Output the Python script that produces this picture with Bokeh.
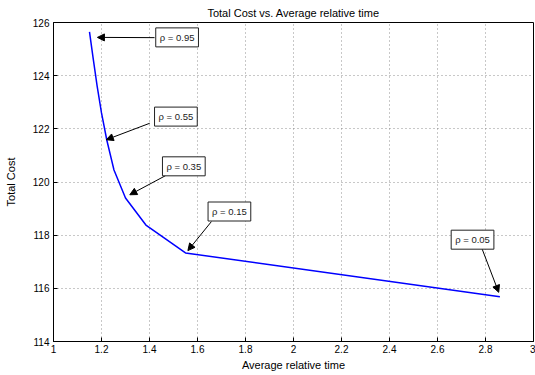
from bokeh.plotting import figure
from bokeh.models import FixedTicker, Arrow, NormalHead, Label, ColumnDataSource, Range1d
from bokeh.embed import file_html
from bokeh.resources import INLINE

# Data: rho values and resulting (avg relative time, total cost)
rho = [0.05, 0.15, 0.25, 0.35, 0.45, 0.55, 0.65, 0.75, 0.85, 0.95]
avg_time = [2.86, 1.55, 1.385, 1.30, 1.252, 1.222, 1.200, 1.182, 1.166, 1.150]
total_cost = [115.68, 117.33, 118.38, 119.40, 120.45, 121.58, 122.60, 123.60, 124.60, 125.65]

x_ticks = [1.0, 1.2, 1.4, 1.6, 1.8, 2.0, 2.2, 2.4, 2.6, 2.8, 3.0]
x_tick_labels = ["1", "1.2", "1.4", "1.6", "1.8", "2", "2.2", "2.4", "2.6", "2.8", "3"]
y_ticks = [114, 116, 118, 120, 122, 124, 126]
y_tick_labels = ["114", "116", "118", "120", "122", "124", "126"]

# Annotations (text box centre, arrow tail, arrow tip) in data units
ann_text = ["\u03c1 = 0.95", "\u03c1 = 0.55", "\u03c1 = 0.35", "\u03c1 = 0.15", "\u03c1 = 0.05"]
ann_box_x = [1.515, 1.510, 1.543, 1.733, 2.746]
ann_box_y = [125.44, 122.46, 120.59, 118.89, 117.83]
ann_tail_x = [1.421, 1.401, 1.467, 1.658, 2.786]
ann_tail_y = [125.43, 122.21, 120.24, 118.51, 117.48]
ann_tip_x = [1.183, 1.220, 1.318, 1.560, 2.855]
ann_tip_y = [125.44, 121.59, 119.52, 117.42, 115.85]

FONT = "Liberation Sans"

p = figure(width=535, height=375, output_backend="svg", toolbar_location=None,
           x_range=Range1d(1, 3), y_range=Range1d(114, 126),
           title="Total Cost vs. Average relative time",
           min_border_left=53, min_border_right=2, min_border_top=22, min_border_bottom=34)

p.title.align = "center"
p.title.text_font = FONT
p.title.text_font_size = "11px"
p.title.text_font_style = "normal"
p.title.text_color = "black"
p.title.standoff = 8

p.background_fill_color = "white"
p.border_fill_color = "white"
p.outline_line_color = "black"
p.outline_line_width = 1

for ax, ticks, labels in ((p.xaxis[0], x_ticks, x_tick_labels), (p.yaxis[0], y_ticks, y_tick_labels)):
    ax.ticker = FixedTicker(ticks=ticks)
    ax.major_label_overrides = {t: l for t, l in zip(ticks, labels)}
    ax.major_tick_in = 4
    ax.major_tick_out = 0
    ax.minor_tick_in = 0
    ax.minor_tick_out = 0
    ax.major_label_text_font = FONT
    ax.major_label_text_font_size = "10px"
    ax.major_label_text_color = "black"
    ax.axis_label_text_font = FONT
    ax.axis_label_text_font_size = "11px"
    ax.axis_label_text_font_style = "normal"
    ax.axis_label_text_color = "black"
    ax.axis_line_color = "black"
    ax.major_tick_line_color = "black"

p.xaxis.axis_label = "Average relative time"
p.yaxis.axis_label = "Total Cost"
p.xaxis.major_label_standoff = 3
p.xaxis.axis_label_standoff = 3
p.yaxis.major_label_standoff = 4
p.yaxis.axis_label_standoff = 13

p.grid.grid_line_color = "#777777"
p.grid.grid_line_dash = "1 3"
p.grid.grid_line_width = 1
p.grid.grid_line_alpha = 0.8

src = ColumnDataSource(data=dict(x=avg_time, y=total_cost))
p.line("x", "y", source=src, line_color="#0000ff", line_width=1.5)

for t, bx, by, tx, ty, hx, hy in zip(ann_text, ann_box_x, ann_box_y, ann_tail_x, ann_tail_y, ann_tip_x, ann_tip_y):
    p.add_layout(Arrow(end=NormalHead(size=7, fill_color="black", line_color="black"),
                       x_start=tx, y_start=ty, x_end=hx, y_end=hy,
                       line_color="black", line_width=1))
    p.add_layout(Label(x=bx, y=by, text=t, text_align="center", text_baseline="middle",
                       text_font=FONT, text_font_size="9.5px", text_color="#222222",
                       background_fill_color="white", border_line_color="#222222",
                       border_line_width=1, padding=4))

open("out.html", "w").write(file_html(p, INLINE))
